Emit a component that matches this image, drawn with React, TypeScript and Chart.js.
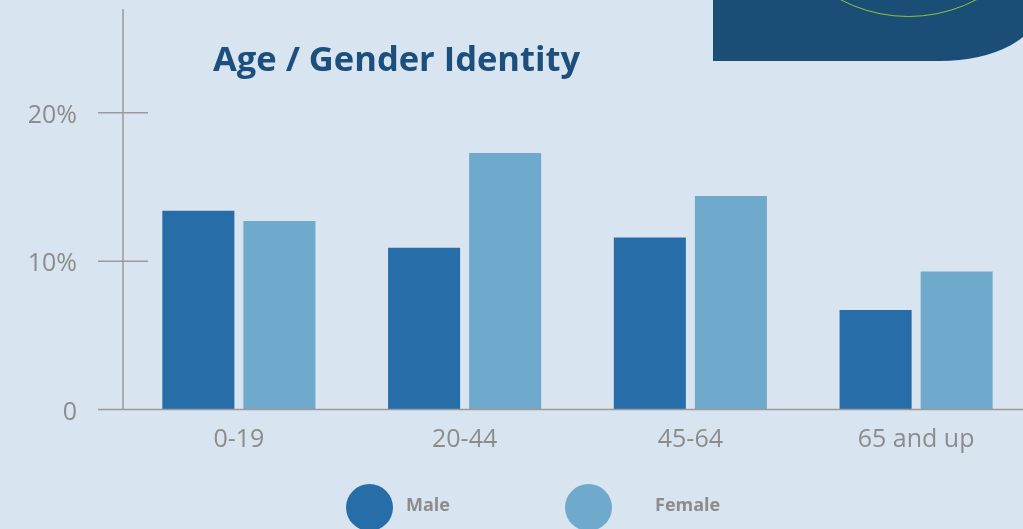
import React, { useEffect, useRef } from "react";
import { Chart, registerables } from "chart.js";

Chart.register(...registerables);

const categories = ["0-19", "20-44", "45-64", "65 and up"];
const maleValues = [13.4, 10.9, 11.6, 6.7];
const femaleValues = [12.7, 17.3, 14.4, 9.3];
const yTickValues = [0, 10, 20];
const seriesNames = ["Male", "Female"];

const MALE = "#276ea8";
const FEMALE = "#6fa9cc";
const BG = "#d8e4ef";
const GRAY = "#8c8c8c";

const axisPlugin = {
  id: "axisLines",
  afterDatasetsDraw(chart: any) {
    const { ctx, chartArea, scales } = chart;
    const y = scales.y;
    const ax = chartArea.left - 3;
    const y0 = y.getPixelForValue(0);
    ctx.save();
    ctx.strokeStyle = "#9a9a9a";
    ctx.lineWidth = 1.5;
    ctx.beginPath();
    ctx.moveTo(ax, y.getPixelForValue(27));
    ctx.lineTo(ax, y0);
    yTickValues.forEach((v) => {
      const py = y.getPixelForValue(v);
      ctx.moveTo(ax - 25, py);
      ctx.lineTo(v === 0 ? chart.width : ax + 25, py);
    });
    ctx.stroke();
    ctx.restore();
  },
};

export default function App() {
  const canvasRef = useRef<HTMLCanvasElement | null>(null);

  useEffect(() => {
    if (!canvasRef.current) return;
    const chart = new Chart(canvasRef.current, {
      type: "bar",
      data: {
        labels: categories,
        datasets: [
          {
            label: seriesNames[0],
            data: maleValues,
            backgroundColor: MALE,
            barPercentage: 0.889,
            categoryPercentage: 0.718,
          },
          {
            label: seriesNames[1],
            data: femaleValues,
            backgroundColor: FEMALE,
            barPercentage: 0.889,
            categoryPercentage: 0.718,
          },
        ],
      },
      options: {
        responsive: false,
        animation: false,
        layout: { padding: { top: 9, left: 0, right: 1, bottom: 0 } },
        plugins: {
          legend: { display: false },
          title: { display: false },
          tooltip: { enabled: false },
        },
        scales: {
          x: {
            grid: { display: false, drawTicks: false },
            border: { display: false },
            ticks: {
              color: GRAY,
              padding: 15,
              maxRotation: 0,
              font: { family: "'Open Sans'", size: 25, lineHeight: 1.2 },
            },
            afterFit(scale: any) {
              scale.height = 119.5;
            },
          },
          y: {
            min: 0,
            max: 27,
            grid: {
              display: true,
              drawOnChartArea: false,
              drawTicks: true,
              tickLength: 49,
              color: "rgba(0,0,0,0)",
            },
            border: { display: false },
            afterBuildTicks(scale: any) {
              scale.ticks = yTickValues.map((v) => ({ value: v }));
            },
            ticks: {
              color: GRAY,
              padding: 0,
              labelOffset: 3,
              font: { family: "'Open Sans'", size: 25, lineHeight: 0.5 },
              callback: (v: any) => (v === 0 ? "0" : v + "%"),
            },
            afterFit(scale: any) {
              scale.width = 126;
            },
          },
        },
      },
      plugins: [axisPlugin],
    });
    return () => chart.destroy();
  }, []);

  return (
    <div
      style={{
        position: "fixed",
        left: 0,
        top: 0,
        width: 1023,
        height: 529,
        overflow: "hidden",
        background: BG,
      }}
    >
      <div
        style={{
          position: "absolute",
          left: 713,
          top: 0,
          width: 327,
          height: 61,
          background: "#1a4e76",
          borderBottomRightRadius: "100px 54px",
          overflow: "hidden",
        }}
      >
        <div
          style={{
            position: "absolute",
            left: 908 - 146.5 - 713,
            top: -276,
            width: 293,
            height: 293,
            borderRadius: "50%",
            border: "1.5px solid #8cc63f",
            boxSizing: "border-box",
          }}
        />
      </div>
      <canvas
        ref={canvasRef}
        width={1030}
        height={529}
        style={{ position: "absolute", left: 0, top: 0, width: 1030, height: 529 }}
      />
      <div
        style={{
          position: "absolute",
          left: 213,
          top: 36,
          fontFamily: "'Open Sans', sans-serif",
          fontWeight: 700,
          fontSize: 34.5,
          color: "#1c4f7c",
          lineHeight: "44px",
          whiteSpace: "nowrap",
        }}
      >
        Age / Gender Identity
      </div>
      {seriesNames.map((name, i) => (
        <div
          key={name}
          style={{
            position: "absolute",
            left: i === 0 ? 346 : 565,
            top: 484,
            display: "flex",
            alignItems: "center",
          }}
        >
          <div
            style={{
              width: 47,
              height: 47,
              borderRadius: "50%",
              background: i === 0 ? MALE : FEMALE,
            }}
          />
          <span
            style={{
              marginLeft: i === 0 ? 13 : 43,
              marginTop: -7,
              fontFamily: "'Open Sans', sans-serif",
              fontWeight: 700,
              fontSize: 18,
              color: GRAY,
            }}
          >
            {name}
          </span>
        </div>
      ))}
    </div>
  );
}
